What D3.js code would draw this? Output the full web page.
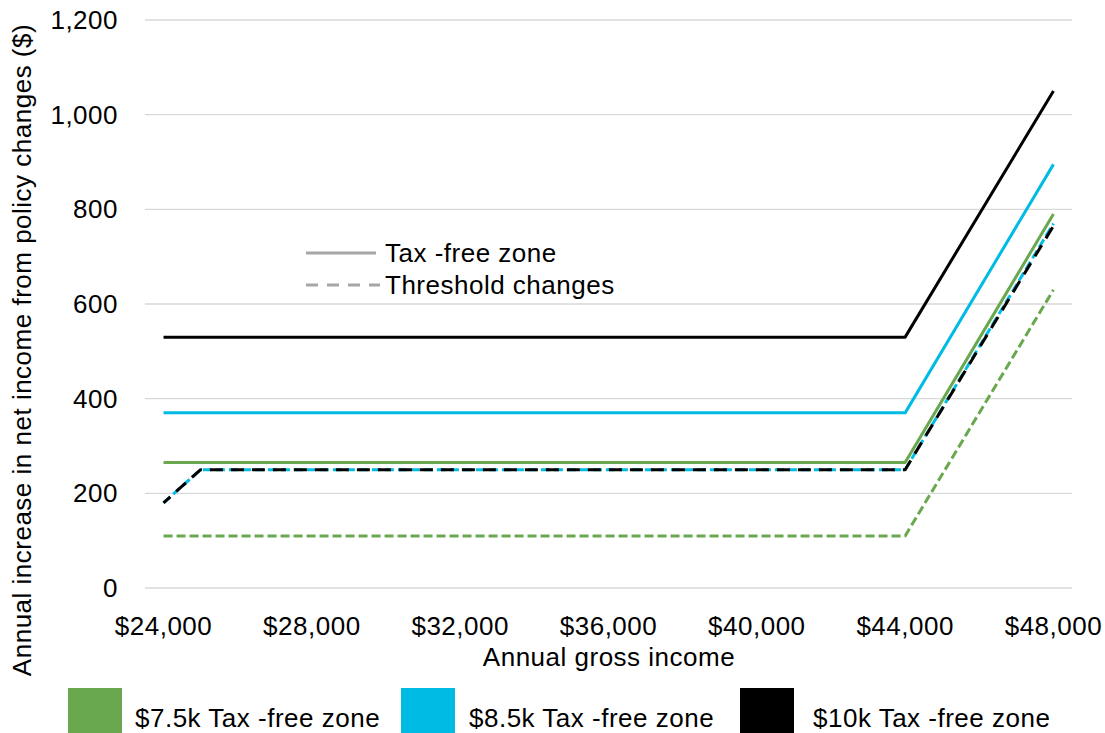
<!DOCTYPE html>
<html><head><meta charset="utf-8">
<script src="https://cdn.jsdelivr.net/npm/d3@7"></script>
<style>body{margin:0;background:#fff}svg{display:block}text{font-family:Arial,"Liberation Sans",sans-serif;fill:#000;letter-spacing:0.5px}</style>
</head><body><svg id="c" width="1105" height="733"></svg>
<script>
const incomes = [24000, 25000, 44000, 48000];
const green75Tfz = [265, 265, 265, 790];
const cyan85Tfz = [370, 370, 370, 895];
const black10Tfz = [530, 530, 530, 1050];
const green75Thr = [110, 110, 110, 630];
const cyan85Thr = [180, 250, 250, 770];
const black10Thr = [180, 250, 250, 765];
const xTicks = [24000, 28000, 32000, 36000, 40000, 44000, 48000];
const yTicks = [0, 200, 400, 600, 800, 1000, 1200];
const legendNames = ["$7.5k Tax -free zone", "$8.5k Tax -free zone", "$10k Tax -free zone"];
const colors = ["#6AA84F", "#00BBE3", "#000000"];

const FS = 26;
const svg = d3.select("#c");
const x = d3.scaleLinear().domain([23500, 48500]).range([145, 1072]);
const y = d3.scaleLinear().domain([0, 1200]).range([588, 20]);

// grid
svg.append("g").selectAll("line").data(yTicks).join("line")
  .attr("x1", 145).attr("x2", 1072).attr("y1", d => y(d)).attr("y2", d => y(d))
  .attr("stroke", "#d9d9d9").attr("stroke-width", 1.3);

// y labels
const fmt = d3.format(",");
svg.append("g").selectAll("text").data(yTicks).join("text")
  .attr("x", 118).attr("y", d => y(d)).attr("dy", "0.35em").attr("text-anchor", "end")
  .attr("font-size", FS).text(d => fmt(d));
// x labels
svg.append("g").selectAll("text").data(xTicks).join("text")
  .attr("x", d => x(d)).attr("y", 626).attr("dy", "0.35em").attr("text-anchor", "middle")
  .attr("font-size", FS).text(d => "$" + fmt(d));

svg.append("text").attr("x", 609).attr("y", 657).attr("dy", "0.35em").attr("text-anchor", "middle")
  .attr("font-size", FS).text("Annual gross income");
svg.append("text").attr("transform", "translate(22,350) rotate(-90)").attr("dy", "0.35em")
  .attr("text-anchor", "middle").attr("font-size", FS)
  .text("Annual increase in net income from policy changes ($)");

const line = d3.line().x((d, i) => x(incomes[i])).y(d => y(d));
const series = [
  {v: green75Thr, c: colors[0], dash: "9,4"},
  {v: cyan85Thr, c: colors[1], dash: "9,4"},
  {v: black10Thr, c: colors[2], dash: "13,8", off: 4},
  {v: green75Tfz, c: colors[0]},
  {v: cyan85Tfz, c: colors[1]},
  {v: black10Tfz, c: colors[2]}
];
svg.append("g").selectAll("path").data(series).join("path")
  .attr("d", d => line(d.v)).attr("fill", "none").attr("stroke", d => d.c)
  .attr("stroke-width", 3).attr("stroke-linejoin", "round")
  .attr("stroke-dasharray", d => d.dash || null)
  .attr("stroke-dashoffset", d => d.off || 0);

// inner legend
const lg = svg.append("g");
lg.append("line").attr("x1", 306).attr("x2", 376).attr("y1", 253).attr("y2", 253)
  .attr("stroke", "#a6a6a6").attr("stroke-width", 3);
lg.append("line").attr("x1", 306).attr("x2", 380).attr("y1", 285).attr("y2", 285)
  .attr("stroke", "#a6a6a6").attr("stroke-width", 3).attr("stroke-dasharray", "12,9");
lg.append("text").attr("x", 385).attr("y", 253).attr("dy", "0.35em").attr("font-size", FS).text("Tax -free zone");
lg.append("text").attr("x", 385).attr("y", 285).attr("dy", "0.35em").attr("font-size", FS).text("Threshold changes");

// bottom legend
const bx = [68, 401, 740];
const tx = [135, 469, 813];
const bl = svg.append("g");
bl.selectAll("rect").data(legendNames).join("rect")
  .attr("x", (d, i) => bx[i]).attr("y", 688).attr("width", 54).attr("height", 50)
  .attr("fill", (d, i) => colors[i]);
bl.selectAll("text").data(legendNames).join("text")
  .attr("x", (d, i) => tx[i]).attr("y", 718).attr("dy", "0.35em").attr("font-size", FS)
  .text(d => d);
</script></body></html>
